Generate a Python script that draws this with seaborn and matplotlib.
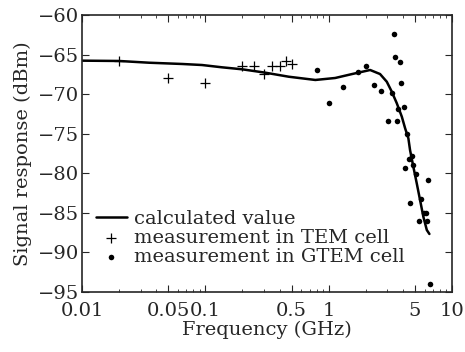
import numpy as np
import pandas as pd
import matplotlib
matplotlib.use("Agg")
import matplotlib.pyplot as plt
import seaborn as sns
from matplotlib.ticker import FixedLocator, FixedFormatter, LogLocator, NullFormatter

# calculated curve
calc_freq = [0.01, 0.02, 0.035, 0.065, 0.094, 0.1365, 0.1985, 0.307, 0.475, 0.78, 1.13,
             1.55, 2.17, 2.61, 2.96, 3.25, 3.57, 3.92, 4.17, 4.43, 4.57, 4.86, 5.18,
             5.51, 5.86, 6.25, 6.56]
calc_val = [-65.77, -65.81, -66.03, -66.19, -66.32, -66.61, -66.86, -67.29, -67.80, -68.21,
            -67.96, -67.46, -66.95, -67.46, -68.43, -69.69, -71.16, -72.85, -74.32, -75.58,
            -77.06, -79.17, -81.27, -83.38, -85.49, -87.17, -87.67]

# TEM cell measurements
tem_freq = [0.02, 0.05, 0.1, 0.2, 0.25, 0.3, 0.35, 0.4, 0.45, 0.5]
tem_val = [-65.8, -67.9, -68.6, -66.4, -66.4, -67.45, -66.4, -66.4, -65.8, -66.2]

# GTEM cell measurements
gtem_freq = [0.8, 1.01, 1.31, 1.72, 2.02, 2.34, 2.66, 3.37, 3.47, 3.77, 3.89, 3.27, 3.05,
             3.59, 3.67, 4.06, 4.35, 4.14, 4.52, 4.72, 4.87, 5.09, 6.36, 4.55, 5.57, 5.90,
             6.12, 5.44, 6.28, 6.6]
gtem_val = [-67.0, -71.1, -69.06, -67.24, -66.5, -68.9, -69.56, -62.4, -65.35, -65.9, -68.6,
            -69.9, -73.4, -73.4, -71.9, -71.6, -75.1, -79.3, -78.2, -77.8, -79.0, -80.05,
            -80.85, -83.7, -83.25, -85.06, -85.06, -86.0, -86.0, -94.0]

xticks = [0.01, 0.05, 0.1, 0.5, 1, 5, 10]
xtick_labels = ["0.01", "0.05", "0.1", "0.5", "1", "5", "10"]
yticks = [-95, -90, -85, -80, -75, -70, -65, -60]

sns.set_style("ticks")
plt.rcParams["font.family"] = ["DejaVu Serif"]
plt.rcParams["mathtext.fontset"] = "dejavuserif"
plt.rcParams["axes.unicode_minus"] = True

fig = plt.figure(figsize=(4.65, 3.52), dpi=100)
ax = fig.add_axes([0.1763, 0.1705, 0.972 - 0.1763, 0.9574 - 0.1705])

calc_df = pd.DataFrame({"f": calc_freq, "v": calc_val})
tem_df = pd.DataFrame({"f": tem_freq, "v": tem_val})
gtem_df = pd.DataFrame({"f": gtem_freq, "v": gtem_val})

sns.lineplot(data=calc_df, x="f", y="v", ax=ax, color="black", lw=1.8,
             label="calculated value", sort=True)
sns.scatterplot(data=tem_df, x="f", y="v", ax=ax, marker="+", color="black", s=55,
                linewidth=0.9, label="measurement in TEM cell")
sns.scatterplot(data=gtem_df, x="f", y="v", ax=ax, marker="o", color="black", s=16,
                edgecolor="black", linewidth=0, label="measurement in GTEM cell")

ax.set_xscale("log")
ax.set_xlim(0.01, 10)
ax.set_ylim(-95, -60)
ax.xaxis.set_major_locator(FixedLocator(xticks))
ax.xaxis.set_major_formatter(FixedFormatter(xtick_labels))
ax.xaxis.set_minor_locator(LogLocator(base=10, subs=np.arange(2, 10)))
ax.xaxis.set_minor_formatter(NullFormatter())
ax.set_yticks(yticks)
ax.set_yticklabels(["\u2212%d" % abs(t) for t in yticks])

ax.tick_params(axis="both", which="both", direction="in", top=True, right=True,
               labelsize=14, pad=2)
ax.tick_params(axis="x", which="major", pad=7)
ax.tick_params(axis="both", which="major", length=5, width=0.8)
ax.tick_params(axis="x", which="minor", length=2.5, width=0.6)
for s in ax.spines.values():
    s.set_linewidth(1.2)

ax.set_xlabel("Frequency (GHz)", fontsize=14, labelpad=1)
ax.set_ylabel("Signal response (dBm)", fontsize=14, labelpad=4)

leg = ax.legend(loc="lower left", frameon=False, fontsize=14, handlelength=1.6,
                handletextpad=0.4, labelspacing=0.05, borderaxespad=0.3,
                bbox_to_anchor=(0.0, 0.044))

fig.savefig("out.png", dpi=100)
